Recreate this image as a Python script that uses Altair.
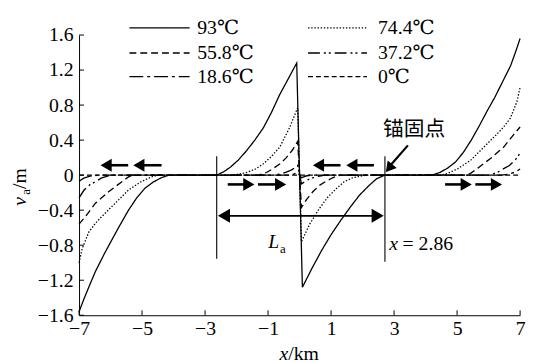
import altair as alt
import pandas as pd

SERIES = ["93℃", "74.4℃", "55.8℃", "37.2℃", "18.6℃", "0℃"]

X_93 = [-7, -6.84, -6.68, -6.48, -6.2, -5.96, -5.7, -5.43, -5.17, -4.91, -4.65, -4.39, -4.15,
        -2.63, -2.4, -2.2, -1.95, -1.68, -1.42, -1.15, -0.9, -0.63, -0.36, -0.09,
        0.09, 0.4, 0.7, 1.0, 1.3, 1.6, 1.9, 2.2, 2.45, 2.71,
        4.2, 4.45, 4.7, 4.95, 5.2, 5.45, 5.7, 5.95, 6.2, 6.45, 6.7, 6.85, 7]
V_93 = [-1.56, -1.41, -1.27, -1.1, -0.9, -0.74, -0.57, -0.4, -0.26, -0.15, -0.08, -0.03, 0,
        0, 0.04, 0.09, 0.17, 0.28, 0.4, 0.54, 0.71, 0.92, 1.1, 1.28,
        -1.28, -1.06, -0.86, -0.68, -0.52, -0.37, -0.23, -0.12, -0.04, 0,
        0, 0.03, 0.08, 0.15, 0.26, 0.4, 0.56, 0.73, 0.89, 1.07, 1.25, 1.4, 1.56]

X_744 = [-7, -6.9, -6.69, -6.48, -6.27, -5.85, -5.43, -5.03, -4.7, -4.5,
         -2.1, -1.68, -1.4, -1.15, -0.9, -0.63, -0.32, -0.06,
         0.06, 0.32, 0.63, 0.9, 1.15, 1.4, 1.68, 2.1,
         4.5, 4.7, 5.03, 5.43, 5.85, 6.27, 6.48, 6.69, 6.9, 7]
V_744 = [-1.0, -0.84, -0.65, -0.55, -0.47, -0.32, -0.17, -0.075, -0.02, 0,
         0, 0.03, 0.07, 0.13, 0.21, 0.32, 0.54, 0.77,
         -0.76, -0.56, -0.38, -0.25, -0.16, -0.08, -0.03, 0,
         0, 0.02, 0.075, 0.17, 0.32, 0.47, 0.55, 0.65, 0.84, 1.0]

X_558 = [-7, -6.79, -6.48, -6.06, -5.64, -5.43, -5.3,
         -1.3, -1.05, -0.84, -0.62, -0.42, -0.22, -0.06,
         0.06, 0.22, 0.42, 0.62, 0.84, 1.05, 1.3,
         5.3, 5.43, 5.64, 6.06, 6.48, 6.79, 7]
V_558 = [-0.56, -0.47, -0.32, -0.19, -0.075, -0.02, 0,
         0, 0.03, 0.075, 0.13, 0.2, 0.29, 0.385,
         -0.37, -0.28, -0.19, -0.12, -0.07, -0.03, 0,
         0, 0.02, 0.075, 0.19, 0.32, 0.46, 0.55]

X_372 = [-7, -6.84, -6.66, -6.48, -6.3, -6.1, -6.0,
         -0.8, -0.6, -0.42, -0.25, -0.06,
         0.06, 0.25, 0.42, 0.6, 0.8,
         6.0, 6.1, 6.3, 6.48, 6.66, 6.84, 7]
V_372 = [-0.26, -0.17, -0.11, -0.075, -0.035, -0.01, 0,
         0, 0.015, 0.035, 0.06, 0.11,
         -0.1, -0.055, -0.03, -0.013, 0,
         0, 0.01, 0.035, 0.075, 0.11, 0.17, 0.25]

X_186 = [-7, -6.85, -6.65, -6.4, -0.35, -0.2, -0.06, 0.06, 0.2, 0.35, 6.4, 6.65, 6.85, 7]
V_186 = [-0.07, -0.035, -0.012, 0, 0, 0.01, 0.03, -0.03, -0.01, 0, 0, 0.012, 0.035, 0.07]

X_0 = [-7, 7]
V_0 = [0, 0]

X_TICKS = [-7, -5, -3, -1, 1, 3, 5, 7]
Y_TICKS = [-1.6, -1.2, -0.8, -0.4, 0, 0.4, 0.8, 1.2, 1.6]

# annotation content
ANCHOR_LINES_X = [-2.63, 2.71]
ANCHOR_LINES_TOP = [0.215, 0.215]
ANCHOR_LINES_BOTTOM = [-0.955, -0.99]
ARROWS_LEFT = [(-6.34, -5.44), (-5.30, -4.38), (0.40, 1.30), (1.46, 2.36)]
ARROWS_RIGHT = [(-2.28, -1.41), (-1.32, -0.40), (4.62, 5.49), (5.58, 6.45)]
ARROW_LEFT_Y = 0.113
ARROW_RIGHT_Y = -0.106
LA_Y = -0.464

DASHES = [[1, 0], [1.4, 1.8], [7, 4], [12, 4, 2, 3, 2, 4], [14, 4, 3, 4], [5, 3]]
WIDTHS = [1.3, 1.4, 2.2, 2.0, 2.0, 2.0]

FONT = "Times New Roman, Liberation Serif, Times, DejaVu Serif, serif"
FS = 20

rows = []
for name, xs, vs in zip(SERIES, [X_93, X_744, X_558, X_372, X_186, X_0],
                        [V_93, V_744, V_558, V_372, V_186, V_0]):
    for i, (x, v) in enumerate(zip(xs, vs)):
        rows.append({"T": name, "x": x, "v": v, "i": i})
df = pd.DataFrame(rows)

xs = alt.Scale(domain=[-7, 7], nice=False, zero=False)
ys = alt.Scale(domain=[-1.6, 1.6], nice=False, zero=False)
dash_scale = alt.Scale(domain=SERIES, range=DASHES)
width_scale = alt.Scale(domain=SERIES, range=WIDTHS)

x_axis = alt.Axis(values=X_TICKS, ticks=False, grid=False, domainColor="black", domainWidth=1,
                  labelFont=FONT, labelFontSize=FS, labelColor="black", labelPadding=4,
                  labelFlush=False, labelOverlap=False,
                  labelExpr="(datum.value < 0 ? '\u2212' : '') + format(abs(datum.value), 'd')",
                  title=None)
y_axis = alt.Axis(values=Y_TICKS, ticks=False, grid=False, domainColor="black", domainWidth=1,
                  labelFont=FONT, labelFontSize=FS, labelColor="black", labelPadding=6,
                  labelOverlap=False, labelFlush=False,
                  labelExpr="datum.value == 0 ? '0' : (datum.value < 0 ? '\u2212' : '') + format(abs(datum.value), '.1f')",
                  title=None)


def X(field, **kw):
    return alt.X(field, scale=xs, axis=x_axis, **kw)


def Y(field, **kw):
    return alt.Y(field, scale=ys, axis=y_axis, **kw)


lines = alt.Chart(df).mark_line(color="black", clip=False).encode(
    x=X("x:Q"),
    y=Y("v:Q"),
    detail="T:N",
    order="i:Q",
    strokeDash=alt.StrokeDash("T:N", scale=dash_scale, legend=None),
    strokeWidth=alt.StrokeWidth("T:N", scale=width_scale, legend=None),
)

# inward ticks
xt = alt.Chart(pd.DataFrame({"x": X_TICKS})).mark_rule(color="black", strokeWidth=1).encode(
    x=X("x:Q"), y=alt.value(284), y2=alt.value(279))
yt = alt.Chart(pd.DataFrame({"v": Y_TICKS})).mark_rule(color="black", strokeWidth=1).encode(
    y=Y("v:Q"), x=alt.value(0), x2=alt.value(5))

# legend
LEG_COLS = [(-5.40, -3.49, -3.25), (0.27, 2.14, 2.49)]
LEG_ROWS = [1.682, 1.395, 1.125]
leg = []
for k, name in enumerate(SERIES):
    c = LEG_COLS[k % 2]
    leg.append({"T": name, "x1": c[0], "x2": c[1], "xt": c[2], "y": LEG_ROWS[k // 2]})
leg_df = pd.DataFrame(leg)
leg_lines = alt.Chart(leg_df).mark_rule(color="black", clip=False).encode(
    x=X("x1:Q"), x2="x2:Q", y=Y("y:Q"),
    strokeDash=alt.StrokeDash("T:N", scale=dash_scale, legend=None),
    strokeWidth=alt.StrokeWidth("T:N", scale=width_scale, legend=None),
)
leg_text = alt.Chart(leg_df).mark_text(align="left", baseline="middle", font=FONT, fontSize=FS,
                                       color="black", clip=False).encode(
    x=X("xt:Q"), y=Y("y:Q"), text="T:N")

# vertical anchor lines
vl = alt.Chart(pd.DataFrame({"x": ANCHOR_LINES_X, "y1": ANCHOR_LINES_TOP, "y2": ANCHOR_LINES_BOTTOM})).mark_rule(
    color="black", strokeWidth=1.1).encode(x=X("x:Q"), y=Y("y1:Q"), y2="y2:Q")

# direction arrows
arr_rows = []
for a, b in ARROWS_LEFT:
    arr_rows.append({"x1": a + 0.15, "x2": b, "y": ARROW_LEFT_Y, "hx": a + 0.2, "shape": "triangle-left"})
for a, b in ARROWS_RIGHT:
    arr_rows.append({"x1": a, "x2": b - 0.15, "y": ARROW_RIGHT_Y, "hx": b - 0.2, "shape": "triangle-right"})
arr_df = pd.DataFrame(arr_rows)
arr_shaft = alt.Chart(arr_df).mark_rule(color="black", strokeWidth=2.6).encode(
    x=X("x1:Q"), x2="x2:Q", y=Y("y:Q"))
arr_head = alt.Chart(arr_df).mark_point(filled=True, color="black", opacity=1, size=170).encode(
    x=X("hx:Q"), y=Y("y:Q"), shape=alt.Shape("shape:N", scale=None))

# La double arrow
la_df = pd.DataFrame({"x1": [ANCHOR_LINES_X[0] + 0.2], "x2": [ANCHOR_LINES_X[1] - 0.2], "y": [LA_Y]})
la_shaft = alt.Chart(la_df).mark_rule(color="black", strokeWidth=1.8).encode(
    x=X("x1:Q"), x2="x2:Q", y=Y("y:Q"))
la_heads_df = pd.DataFrame({"hx": [ANCHOR_LINES_X[0] + 0.23, ANCHOR_LINES_X[1] - 0.23], "y": [LA_Y, LA_Y],
                            "shape": ["triangle-left", "triangle-right"]})
la_heads = alt.Chart(la_heads_df).mark_point(filled=True, color="black", opacity=1, size=200).encode(
    x=X("hx:Q"), y=Y("y:Q"), shape=alt.Shape("shape:N", scale=None))

# anchor point pointer
ptr_df = pd.DataFrame({"x1": [3.44], "y1": [0.34], "x2": [2.88], "y2": [0.11]})
ptr = alt.Chart(ptr_df).mark_rule(color="black", strokeWidth=2.2).encode(
    x=X("x1:Q"), y=Y("y1:Q"), x2="x2:Q", y2="y2:Q")
ptr_head = alt.Chart(pd.DataFrame({"x": [2.84], "y": [0.08]})).mark_point(
    shape="triangle-up", filled=True, color="black", opacity=1, size=140, angle=219).encode(
    x=X("x:Q"), y=Y("y:Q"))


def txt(text, x, y, size=FS, style="normal", font=FONT, angle=0, baseline="middle"):
    d = pd.DataFrame({"x": [x], "y": [y], "t": [text]})
    kw = dict(align="left", baseline=baseline, font=font, fontSize=size, fontStyle=style,
              color="black", clip=False)
    if angle:
        kw["angle"] = angle
    return alt.Chart(d).mark_text(**kw).encode(x=X("x:Q"), y=Y("y:Q"), text="t:N")


texts = [
    txt("锚固点", 2.65, 0.52, size=21, font="Noto Sans CJK SC"),
    txt("x", 2.85, -0.79, style="italic"),
    txt("= 2.86", 3.27, -0.79),
    txt("L", -0.99, -0.765, style="italic"),
    txt("a", -0.62, -0.84, size=13),
    txt("x", -0.64, -2.04, style="italic"),
    txt("/km", -0.36, -2.04),
    txt("v", -8.69, -0.35, style="italic", angle=270, baseline="alphabetic"),
    txt("a", -8.57, -0.225, size=13, angle=270, baseline="alphabetic"),
    txt("/m", -8.69, -0.158, angle=270, baseline="alphabetic"),
]

chart = alt.layer(lines, xt, yt, leg_lines, leg_text, vl, arr_shaft, arr_head, la_shaft, la_heads,
                  ptr, ptr_head, *texts).properties(
    width=447, height=284,
    autosize="none",
    padding={"left": 72, "top": 25, "right": 6, "bottom": 46},
    background="white",
).configure_view(stroke=None).configure_axis(
    labelFont=FONT, labelFontSize=FS, labelColor="black", labelOverlap=False
).configure_text(font=FONT)

chart.save("out.html", embed_options={"renderer": "svg", "actions": False})
